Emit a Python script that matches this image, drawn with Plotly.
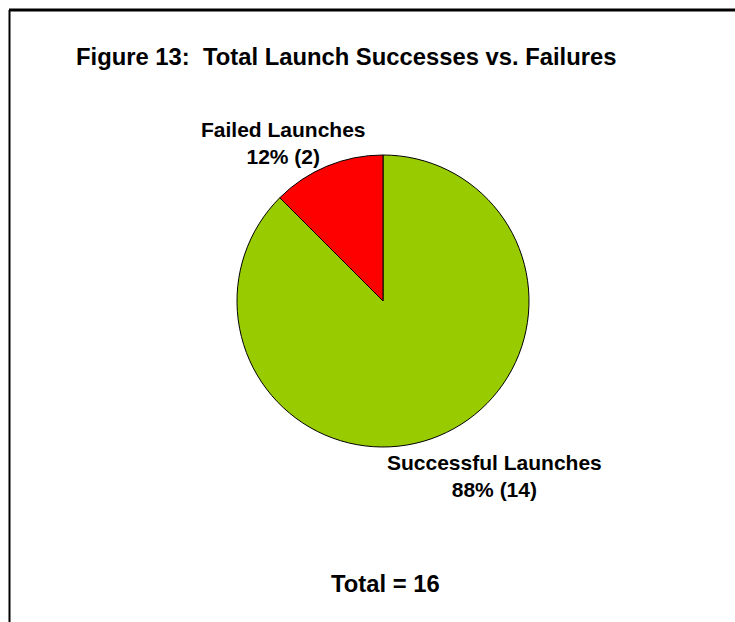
import plotly.graph_objects as go

# Launch outcome counts
outcomes = ["Successful Launches", "Failed Launches"]
counts = [14, 2]
colors = ["#99CC00", "#FF0000"]

W, H = 735, 622
total = sum(counts)

fig = go.Figure()

# Pie centred at (383, 301) px with radius ~146 px; clockwise from 12 o'clock
cx, cy, r = 383, 301, 146
fig.add_trace(go.Pie(
    labels=outcomes,
    values=counts,
    sort=False,
    direction="clockwise",
    rotation=0,
    marker=dict(colors=colors, line=dict(color="black", width=1)),
    textinfo="none",
    hoverinfo="label+value+percent",
    showlegend=False,
    domain=dict(x=[(cx - r) / W, (cx + r) / W],
                y=[(H - cy - r) / H, (H - cy + r) / H]),
))

def px_x(x):
    return x / W

def px_y(y):
    return 1 - y / H

font_lbl = dict(family="Liberation Sans, Arial, sans-serif", size=21, color="black")
font_big = dict(family="Liberation Sans, Arial, sans-serif", size=23.8, color="black")

# Slice labels: name, percentage and count
label_pos = {"Failed Launches": (283, 143), "Successful Launches": (494, 476)}
for name, c in zip(outcomes, counts):
    pct = round(100 * c / total)
    x, y = label_pos[name]
    fig.add_annotation(
        x=px_x(x), y=px_y(y), xref="paper", yref="paper",
        xanchor="center", yanchor="middle", showarrow=False,
        text=f"<b>{name}<br>{pct}% ({c})</b>", font=font_lbl, align="center",
    )

fig.add_annotation(
    x=px_x(74), y=px_y(57), xref="paper", yref="paper",
    xanchor="left", yanchor="middle", showarrow=False,
    text="<b>Figure 13:&nbsp; Total Launch Successes vs. Failures</b>", font=font_big,
)

fig.add_annotation(
    x=px_x(385), y=px_y(583), xref="paper", yref="paper",
    xanchor="center", yanchor="middle", showarrow=False,
    text=f"<b>Total = {total}</b>", font=font_big,
)

# Frame lines (top and left)
fig.add_shape(type="line", xref="paper", yref="paper",
              x0=px_x(9), x1=1.0, y0=px_y(10), y1=px_y(10),
              line=dict(color="black", width=3))
fig.add_shape(type="line", xref="paper", yref="paper",
              x0=px_x(9.5), x1=px_x(9.5), y0=px_y(10), y1=0,
              line=dict(color="black", width=2))

fig.update_layout(
    width=W, height=H,
    margin=dict(l=0, r=0, t=0, b=0),
    paper_bgcolor="white", plot_bgcolor="white",
)

fig.write_html("out.html")
